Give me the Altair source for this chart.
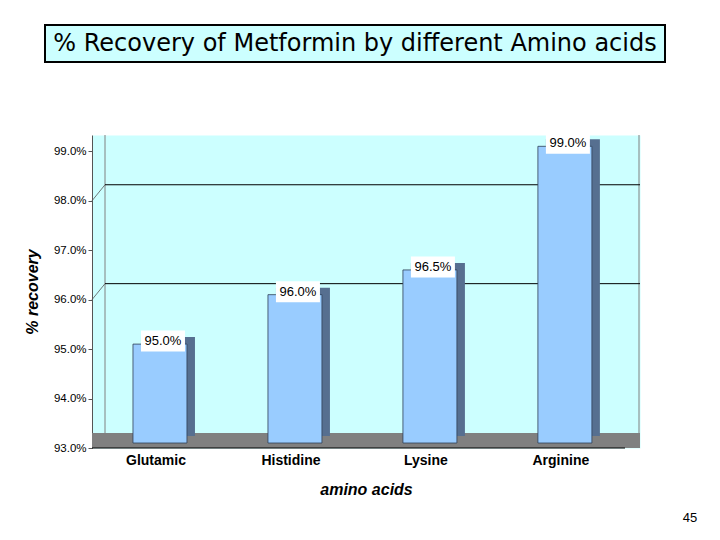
import altair as alt
import pandas as pd

# ---- data ----
categories = ["Glutamic", "Histidine", "Lysine", "Arginine"]
recovery = [95.0, 96.0, 96.5, 99.0]
y_ticks = [93, 94, 95, 96, 97, 98, 99]
grid_vals = [96, 98]
title_text = "% Recovery of Metformin by different Amino acids"
page_no = "45"

W, H = 548, 313
DEPTH = 16

df = pd.DataFrame({"cat": categories, "value": recovery})
gdf = pd.DataFrame({"g": grid_vals})
one = pd.DataFrame({"a": [0]})

FONT = "Liberation Sans"

x_enc = alt.X(
    "cat:N",
    sort=categories,
    scale=alt.Scale(paddingInner=0.6, paddingOuter=0.33, align=0.46),
    axis=alt.Axis(
        title="amino acids",
        titleFont=FONT, titleFontSize=16, titleFontWeight="bold", titleFontStyle="italic",
        titleColor="black", titlePadding=14,
        labelFont=FONT, labelFontSize=14, labelFontWeight="bold", labelColor="black",
        labelPadding=5, labelAngle=0, labelOffset=-4,
        domain=False, ticks=False, grid=False,
    ),
)
y_scale = alt.Scale(domain=[93, 99.33], nice=False, zero=False)
y_enc = alt.Y(
    "value:Q",
    scale=y_scale,
    axis=alt.Axis(
        title="% recovery",
        titleFont=FONT, titleFontSize=16, titleFontWeight="bold", titleFontStyle="italic",
        titleColor="black", titlePadding=13,
        values=y_ticks,
        labelExpr="format(datum.value, '.1f') + '%'",
        labelFont=FONT, labelFontSize=11.5, labelColor="black", labelPadding=2,
        domainColor="#555555", tickColor="#555555", tickSize=4,
        grid=False,
    ),
)

floor = alt.Chart(one).mark_rect(color="#808080").encode(
    x=alt.value(0), x2=alt.value(W), y=alt.value(H - 15), y2=alt.value(H)
)
floor_edge = alt.Chart(one).mark_rule(color="black", strokeWidth=1).encode(
    x=alt.value(0), x2=alt.value(W - 15), y=alt.value(H), y2=alt.value(H)
)
wall_edge = alt.Chart(one).mark_rule(color="#808080").encode(
    x=alt.value(13), y=alt.value(0), y2=alt.value(H - 15)
)
wall_edge_r = alt.Chart(one).mark_rule(color="#808080").encode(
    x=alt.value(W - 1), y=alt.value(0), y2=alt.value(H - 15)
)
grid_h = alt.Chart(gdf).mark_rule(color="black", strokeWidth=1, yOffset=-DEPTH).encode(
    y=alt.Y("g:Q", scale=y_scale), x=alt.value(13), x2=alt.value(W)
)
grid_d = alt.Chart(gdf).mark_rule(color="#555555", strokeWidth=0.8, y2Offset=-DEPTH).encode(
    y=alt.Y("g:Q", scale=y_scale), y2="g:Q", x=alt.value(0), x2=alt.value(13)
)

back = alt.Chart(df).mark_bar(color="#566f90", xOffset=8, yOffset=-12, y2Offset=-12).encode(
    x=x_enc, y=y_enc, y2=alt.datum(93)
)
front = alt.Chart(df).mark_bar(
    color="#99ccff", stroke="#2f3f55", strokeWidth=0.8, yOffset=-5, y2Offset=-5
).encode(x=x_enc, y=y_enc, y2=alt.datum(93))

boxes = alt.Chart(df).mark_rect(
    color="white", width=44, height=21, xOffset=3, yOffset=-8
).encode(x=x_enc, y=y_enc)
labels = alt.Chart(df).transform_calculate(
    lab="format(datum.value, '.1f') + '%'"
).mark_text(
    font=FONT, fontSize=13, color="black", xOffset=3, yOffset=-8, baseline="middle"
).encode(x=x_enc, y=y_enc, text="lab:N")

title_box = alt.Chart(one).mark_rect(fill="#ccffff", stroke="black", strokeWidth=2).encode(
    x=alt.value(-47), x2=alt.value(573), y=alt.value(-110), y2=alt.value(-73)
)
title = alt.Chart(one).mark_text(
    font="DejaVu Sans", fontSize=24, color="black", baseline="middle", align="center"
).encode(x=alt.value(263), y=alt.value(-91), text=alt.value(title_text))
page = alt.Chart(one).mark_text(
    font=FONT, fontSize=13, color="black", baseline="middle", align="center"
).encode(x=alt.value(598), y=alt.value(383), text=alt.value(page_no))

chart = alt.layer(
    floor, floor_edge, wall_edge, wall_edge_r, grid_d, grid_h,
    back, front, boxes, labels, title_box, title, page
).properties(
    width=W, height=H,
    padding={"left": 84, "top": 127, "right": 60, "bottom": 80},
    autosize=alt.AutoSizeParams(type="none"),
    background="white",
).configure_view(fill="#ccffff", strokeOpacity=0)

chart.save("out.html", embed_options={"renderer": "svg", "actions": False})
